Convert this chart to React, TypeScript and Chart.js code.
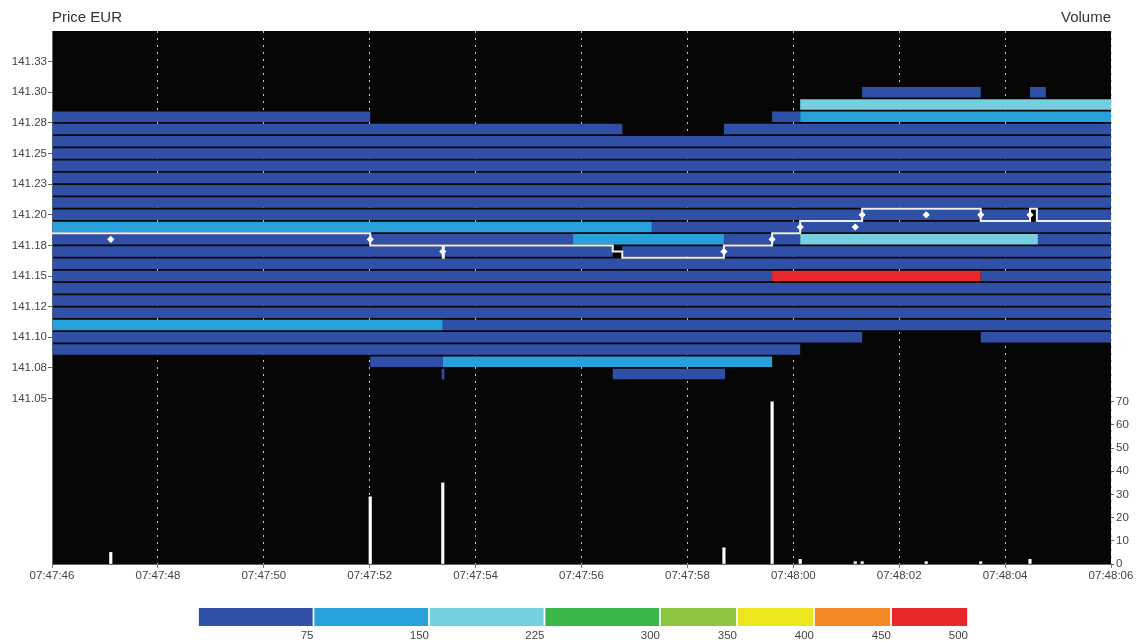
import React, { useEffect, useRef } from "react";
import { Chart, registerables } from "chart.js";
Chart.register(...registerables);

const FONT = "'Liberation Sans', Arial, Helvetica, sans-serif";

// x axis: seconds after 07:47:46
const X_TICK_SECONDS = [0, 2, 4, 6, 8, 10, 12, 14, 16, 18, 20];
const X_TICK_LABELS = ["07:47:46", "07:47:48", "07:47:50", "07:47:52", "07:47:54", "07:47:56", "07:47:58", "07:48:00", "07:48:02", "07:48:04", "07:48:06"];

const PRICE_TICKS = [141.05, 141.075, 141.1, 141.125, 141.15, 141.175, 141.2, 141.225, 141.25, 141.275, 141.3, 141.325];
const PRICE_TICK_LABELS = ["141.05", "141.08", "141.10", "141.12", "141.15", "141.18", "141.20", "141.23", "141.25", "141.28", "141.30", "141.33"];

const VOLUME_TICKS = [0, 10, 20, 30, 40, 50, 60, 70];

// colour scale (legend)
const LEGEND_BOUNDS = [75, 150, 225, 300, 350, 400, 450, 500];
const LEGEND_COLORS = ["#3050a8", "#27a0db", "#76cfe0", "#39b54a", "#8dc63f", "#ece61c", "#f48a26", "#e8282b"];

// order book: [price, from (s), to (s), size]
const BOOK_SEGMENTS: [number, number, number, number][] = [
  [141.30, 15.30, 17.54, 40],
  [141.30, 18.47, 18.77, 40],
  [141.29, 14.13, 20, 190],
  [141.28, 0, 6.01, 40],
  [141.28, 13.60, 14.13, 40],
  [141.28, 14.13, 20, 120],
  [141.27, 0, 10.77, 40],
  [141.27, 12.69, 20, 40],
  [141.26, 0, 20, 40],
  [141.25, 0, 20, 35],
  [141.24, 0, 20, 35],
  [141.23, 0, 20, 35],
  [141.22, 0, 20, 35],
  [141.21, 0, 20, 35],
  [141.20, 0, 18.47, 30],
  [141.20, 18.60, 20, 30],
  [141.19, 0, 11.33, 110],
  [141.19, 11.33, 20, 40],
  [141.18, 0, 9.84, 40],
  [141.18, 9.84, 12.69, 110],
  [141.18, 12.69, 14.13, 40],
  [141.18, 14.13, 18.62, 190],
  [141.18, 18.62, 20, 40],
  [141.17, 0, 10.59, 40],
  [141.17, 10.77, 20, 40],
  [141.16, 0, 20, 40],
  [141.15, 0, 13.60, 40],
  [141.15, 13.60, 17.54, 480],
  [141.15, 17.54, 20, 40],
  [141.14, 0, 20, 40],
  [141.13, 0, 20, 40],
  [141.12, 0, 20, 40],
  [141.11, 0, 7.38, 110],
  [141.11, 7.38, 20, 40],
  [141.10, 0, 15.30, 40],
  [141.10, 17.54, 20, 40],
  [141.09, 0, 14.13, 40],
  [141.08, 6.01, 7.38, 40],
  [141.08, 7.38, 13.60, 110],
  [141.07, 7.36, 7.41, 40],
  [141.07, 10.59, 12.71, 40],
];

// mid price (stepped line)
const MID_TIMES = [0, 6.01, 7.38, 7.40, 10.59, 10.77, 12.69, 13.60, 14.13, 15.30, 17.54, 18.47, 18.60, 20];
const MID_PRICES = [141.185, 141.175, 141.165, 141.175, 141.17, 141.165, 141.175, 141.185, 141.195, 141.205, 141.195, 141.205, 141.195, 141.195];

// trades
const TRADE_TIMES = [1.11, 6.01, 7.38, 12.69, 13.60, 14.13, 15.17, 15.30, 16.51, 17.54, 18.47];
const TRADE_PRICES = [141.18, 141.18, 141.17, 141.17, 141.18, 141.19, 141.19, 141.20, 141.20, 141.20, 141.20];
const TRADE_VOLUMES = [5, 29, 35, 7, 70, 2, 1, 1, 1, 1, 2];

function colorFor(size: number): string {
  for (let i = 0; i < LEGEND_BOUNDS.length; i++) if (size <= LEGEND_BOUNDS[i]) return LEGEND_COLORS[i];
  return LEGEND_COLORS[LEGEND_COLORS.length - 1];
}

const bgPlugin = {
  id: "bgAndTitles",
  beforeDraw(chart: any) {
    const { ctx, chartArea } = chart;
    ctx.save();
    ctx.fillStyle = "#060606";
    ctx.fillRect(chartArea.left, chartArea.top, chartArea.right - chartArea.left, chartArea.bottom - chartArea.top);
    ctx.fillStyle = "#333";
    ctx.font = `15px ${FONT}`;
    ctx.textBaseline = "middle";
    ctx.textAlign = "left";
    ctx.fillText("Price EUR", chartArea.left, 18);
    ctx.textAlign = "right";
    ctx.fillText("Volume", chartArea.right, 18);
    ctx.restore();
  },
};

export default function App() {
  const mainRef = useRef<HTMLCanvasElement>(null);
  const legRef = useRef<HTMLCanvasElement>(null);

  useEffect(() => {
    const tickFont = { family: FONT, size: 11.5 };
    const main = new Chart(mainRef.current as HTMLCanvasElement, {
      type: "bar",
      data: {
        datasets: [
          {
            type: "line",
            label: "trades",
            xAxisID: "x",
            yAxisID: "y",
            data: TRADE_TIMES.map((t, i) => ({ x: t, y: TRADE_PRICES[i] })),
            showLine: false,
            pointStyle: "rectRot",
            pointRadius: 3.6,
            pointBackgroundColor: "#ffffff",
            pointBorderColor: "#ffffff",
            pointBorderWidth: 0,
            order: 0,
          } as any,
          {
            type: "line",
            label: "mid",
            xAxisID: "x",
            yAxisID: "y",
            data: MID_TIMES.map((t, i) => ({ x: t, y: MID_PRICES[i] })),
            stepped: true,
            borderColor: "#eeeeee",
            borderWidth: 2,
            pointRadius: 0,
            fill: false,
            order: 1,
          } as any,
          {
            type: "bar",
            label: "volume",
            indexAxis: "x",
            xAxisID: "x",
            yAxisID: "yVol",
            data: TRADE_TIMES.map((t, i) => ({ x: t, y: TRADE_VOLUMES[i] })),
            backgroundColor: "#ffffff",
            barThickness: 2.5,
            grouped: false,
            order: 2,
          } as any,
          {
            type: "bar",
            label: "book",
            indexAxis: "y",
            xAxisID: "x",
            yAxisID: "y",
            data: BOOK_SEGMENTS.map(([p, a, b]) => ({ x: [a, b], y: p })),
            backgroundColor: BOOK_SEGMENTS.map((s) => colorFor(s[3])),
            borderWidth: 0,
            grouped: false,
            categoryPercentage: 1,
            barPercentage: 0.86,
            order: 3,
          } as any,
        ],
      },
      options: {
        responsive: false,
        maintainAspectRatio: false,
        animation: false,
        layout: { padding: { top: 31, left: 0, right: 0, bottom: 0 } },
        plugins: { legend: { display: false }, tooltip: { enabled: false } },
        scales: {
          x: {
            type: "linear",
            axis: "x",
            position: "bottom",
            min: 0,
            max: 20,
            offset: false,
            afterBuildTicks: (s: any) => { s.ticks = X_TICK_SECONDS.map((v) => ({ value: v })); },
            afterFit: (s: any) => { s.height = 26; },
            grid: { color: "#c8c8c8", lineWidth: 1, drawOnChartArea: true, drawTicks: true, tickLength: 4, tickColor: "#777", offset: false },
            border: { display: true, color: "#666", width: 1, dash: [2, 5] },
            ticks: { font: tickFont, color: "#444", padding: 1, maxRotation: 0, autoSkip: false, callback: (_v: any, i: number) => X_TICK_LABELS[i] },
          },
          y: {
            type: "linear",
            axis: "y",
            position: "left",
            min: 140.915,
            max: 141.35,
            offset: false,
            afterBuildTicks: (s: any) => { s.ticks = PRICE_TICKS.map((v) => ({ value: v })); },
            afterFit: (s: any) => { s.width = 52; },
            grid: { drawOnChartArea: false, drawTicks: true, tickLength: 4, tickColor: "#666", offset: false },
            border: { display: true, color: "#666", width: 1 },
            ticks: { font: tickFont, color: "#444", padding: 1, autoSkip: false, callback: (_v: any, i: number) => PRICE_TICK_LABELS[i] },
          },
          yVol: {
            type: "linear",
            axis: "y",
            position: "right",
            min: 0,
            max: 230,
            offset: false,
            afterBuildTicks: (s: any) => { s.ticks = VOLUME_TICKS.map((v) => ({ value: v })); },
            afterFit: (s: any) => { s.width = 29; },
            grid: { drawOnChartArea: false, drawTicks: true, tickLength: 3, tickColor: "#666", offset: false },
            border: { display: false },
            ticks: { font: tickFont, color: "#444", padding: 2, autoSkip: false },
          },
        } as any,
      },
      plugins: [bgPlugin],
    });

    const sizes = LEGEND_BOUNDS.map((b, i) => b - (i === 0 ? 0 : LEGEND_BOUNDS[i - 1]));
    const leg = new Chart(legRef.current as HTMLCanvasElement, {
      type: "bar",
      data: {
        labels: ["scale"],
        datasets: LEGEND_COLORS.map((c, i) => ({
          label: String(LEGEND_BOUNDS[i]),
          data: [sizes[i]],
          backgroundColor: c,
          borderColor: "#ffffff",
          borderWidth: { left: 1.2, right: 1.2, top: 0, bottom: 0 },
          borderSkipped: false,
          barPercentage: 1,
          categoryPercentage: 1,
        })) as any,
      },
      options: {
        indexAxis: "y",
        responsive: false,
        maintainAspectRatio: false,
        animation: false,
        layout: { padding: { left: 198, right: 172, top: 12, bottom: 0 } },
        plugins: { legend: { display: false }, tooltip: { enabled: false } },
        scales: {
          x: {
            type: "linear",
            stacked: true,
            min: 0,
            max: 500,
            afterBuildTicks: (s: any) => { s.ticks = LEGEND_BOUNDS.map((v) => ({ value: v })); },
            afterFit: (s: any) => { s.height = 18; },
            grid: { display: false, drawTicks: false, tickLength: 0 },
            border: { display: false },
            ticks: { align: "end", padding: 3, font: tickFont, color: "#444", maxRotation: 0, autoSkip: false },
          },
          y: { stacked: true, display: false },
        } as any,
      },
    });

    return () => {
      main.destroy();
      leg.destroy();
    };
  }, []);

  return (
    <div style={{ position: "absolute", left: 0, top: 0, width: 1140, height: 644, background: "#fff" }}>
      <canvas ref={mainRef} width={1140} height={590} style={{ position: "absolute", left: 0, top: 0, display: "block" }} />
      <canvas ref={legRef} width={1140} height={48} style={{ position: "absolute", left: 0, top: 596, display: "block" }} />
    </div>
  );
}
